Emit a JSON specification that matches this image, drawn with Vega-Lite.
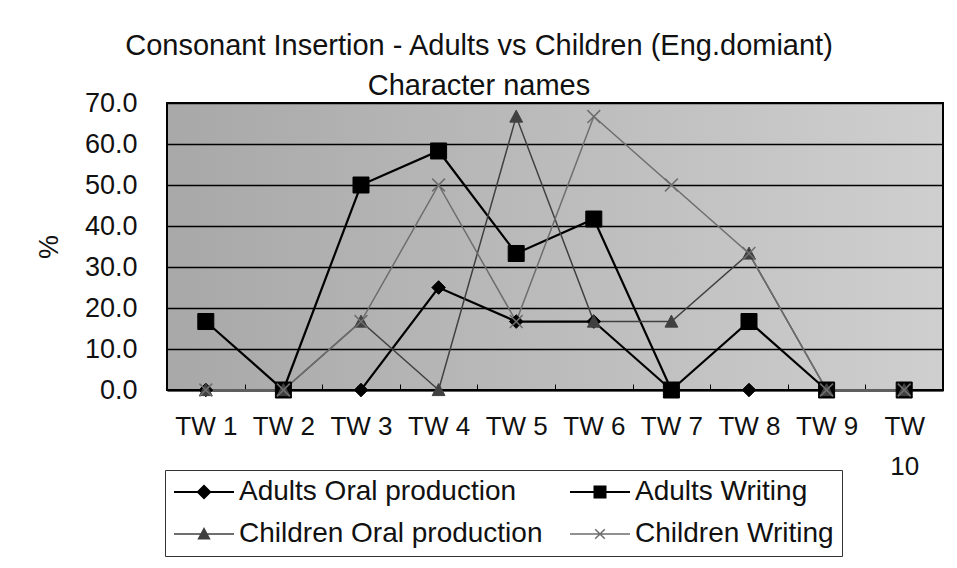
{
  "$schema": "https://vega.github.io/schema/vega-lite/v6.json",
  "autosize": "none",
  "width": 776,
  "height": 287,
  "padding": {"left": 167, "top": 103, "right": 14, "bottom": 178},
  "background": "#ffffff",
  "title": {
    "text": ["Consonant Insertion - Adults vs Children (Eng.domiant)", "Character names"],
    "font": "Liberation Sans",
    "fontSize": 29,
    "fontWeight": "normal",
    "color": "#111111",
    "lineHeight": 40,
    "anchor": "middle",
    "frame": "group",
    "dx": -76,
    "offset": -12
  },
  "config": {
    "font": "Liberation Sans",
    "view": {
      "stroke": "#000000",
      "strokeWidth": 2,
      "fill": {
        "gradient": "linear",
        "x1": 0, "y1": 0, "x2": 1, "y2": 0,
        "stops": [
          {"offset": 0, "color": "#a8a8a8"},
          {"offset": 1, "color": "#cfcfcf"}
        ]
      }
    }
  },
  "data": {
    "values": [
      {"tw": "TW 1", "series": "Adults Oral production", "value": 0},
      {"tw": "TW 2", "series": "Adults Oral production", "value": 0},
      {"tw": "TW 3", "series": "Adults Oral production", "value": 0},
      {"tw": "TW 4", "series": "Adults Oral production", "value": 25},
      {"tw": "TW 5", "series": "Adults Oral production", "value": 16.7},
      {"tw": "TW 6", "series": "Adults Oral production", "value": 16.7},
      {"tw": "TW 7", "series": "Adults Oral production", "value": 0},
      {"tw": "TW 8", "series": "Adults Oral production", "value": 0},
      {"tw": "TW 9", "series": "Adults Oral production", "value": 0},
      {"tw": "TW 10", "series": "Adults Oral production", "value": 0},
      {"tw": "TW 1", "series": "Adults Writing", "value": 16.7},
      {"tw": "TW 2", "series": "Adults Writing", "value": 0},
      {"tw": "TW 3", "series": "Adults Writing", "value": 50},
      {"tw": "TW 4", "series": "Adults Writing", "value": 58.3},
      {"tw": "TW 5", "series": "Adults Writing", "value": 33.3},
      {"tw": "TW 6", "series": "Adults Writing", "value": 41.7},
      {"tw": "TW 7", "series": "Adults Writing", "value": 0},
      {"tw": "TW 8", "series": "Adults Writing", "value": 16.7},
      {"tw": "TW 9", "series": "Adults Writing", "value": 0},
      {"tw": "TW 10", "series": "Adults Writing", "value": 0},
      {"tw": "TW 1", "series": "Children Oral production", "value": 0},
      {"tw": "TW 2", "series": "Children Oral production", "value": 0},
      {"tw": "TW 3", "series": "Children Oral production", "value": 16.7},
      {"tw": "TW 4", "series": "Children Oral production", "value": 0},
      {"tw": "TW 5", "series": "Children Oral production", "value": 66.7},
      {"tw": "TW 6", "series": "Children Oral production", "value": 16.7},
      {"tw": "TW 7", "series": "Children Oral production", "value": 16.7},
      {"tw": "TW 8", "series": "Children Oral production", "value": 33.3},
      {"tw": "TW 9", "series": "Children Oral production", "value": 0},
      {"tw": "TW 10", "series": "Children Oral production", "value": 0},
      {"tw": "TW 1", "series": "Children Writing", "value": 0},
      {"tw": "TW 2", "series": "Children Writing", "value": 0},
      {"tw": "TW 3", "series": "Children Writing", "value": 16.7},
      {"tw": "TW 4", "series": "Children Writing", "value": 50},
      {"tw": "TW 5", "series": "Children Writing", "value": 16.7},
      {"tw": "TW 6", "series": "Children Writing", "value": 66.7},
      {"tw": "TW 7", "series": "Children Writing", "value": 50},
      {"tw": "TW 8", "series": "Children Writing", "value": 33.3},
      {"tw": "TW 9", "series": "Children Writing", "value": 0},
      {"tw": "TW 10", "series": "Children Writing", "value": 0}
    ]
  },
  "encoding": {
    "x": {
      "field": "tw",
      "type": "ordinal",
      "sort": null,
      "scale": {"type": "band", "paddingInner": 0, "paddingOuter": 0},
      "axis": {
        "title": null,
        "labelAngle": 0,
        "labelFontSize": 26,
        "labelColor": "#111111",
        "labelPadding": 29,
        "labelLineHeight": 40,
        "labelExpr": "datum.value === 'TW 10' ? ['TW', '10'] : datum.value",
        "tickBand": "extent",
        "tickSize": -6,
        "tickColor": "#000000",
        "tickWidth": 1,
        "domainColor": "#000000",
        "domainWidth": 2,
        "grid": false
      }
    },
    "y": {
      "field": "value",
      "type": "quantitative",
      "scale": {"domain": [0, 70], "nice": false},
      "axis": {
        "title": "%",
        "titleFontSize": 27,
        "titleFontWeight": "normal",
        "titleColor": "#111111",
        "titlePadding": 21,
        "values": [0, 10, 20, 30, 40, 50, 60, 70],
        "format": ".1f",
        "labelFontSize": 27,
        "labelColor": "#111111",
        "labelPadding": 30,
        "ticks": false,
        "domain": false,
        "grid": true,
        "gridColor": "#000000",
        "gridWidth": 1.5,
        "gridOpacity": 1
      }
    }
  },
  "layer": [
    {
      "mark": {"type": "line"},
      "encoding": {
        "color": {
          "field": "series",
          "type": "nominal",
          "sort": null,
          "scale": {
            "domain": ["Adults Oral production", "Adults Writing", "Children Oral production", "Children Writing"],
            "range": ["#000000", "#000000", "#404040", "#6e6e6e"]
          },
          "legend": {
            "title": null,
            "orient": "none",
            "legendX": -2,
            "legendY": 367,
            "columns": 2,
            "direction": "horizontal",
            "labelFontSize": 28,
            "labelColor": "#111111",
            "labelLimit": 500,
            "symbolType": "M-5,0L5,0",
            "symbolSize": 144,
            "symbolOffset": 17,
            "labelOffset": 21,
            "columnPadding": 22,
            "rowPadding": 14,
            "padding": 8,
            "strokeColor": "#333333",
            "symbolStrokeWidth": 1.6,
            "symbolOpacity": 1,
            "encode": {
              "symbols": {
                "update": {
                  "shape": {"signal": "datum.value === 'Adults Oral production' ? 'M-5,0L5,0M0,-1L1,0L0,1L-1,0Z' : datum.value === 'Adults Writing' ? 'M-5,0L5,0M-0.9,-0.9L0.9,-0.9L0.9,0.9L-0.9,0.9Z' : datum.value === 'Children Oral production' ? 'M-5,0L5,0M0,-0.9L0.9,0.8L-0.9,0.8Z' : 'M-5,0L5,0M-0.8,-0.8L0.8,0.8M-0.8,0.8L0.8,-0.8'"},
                  "fill": {"signal": "datum.value === 'Children Oral production' ? '#404040' : datum.value === 'Children Writing' ? 'transparent' : '#000000'"},
                  "stroke": {"signal": "datum.value === 'Children Oral production' ? '#404040' : datum.value === 'Children Writing' ? '#6e6e6e' : '#000000'"},
                  "strokeWidth": {"value": 1.6}
                }
              }
            }
          }
        },
        "strokeWidth": {
          "field": "series",
          "type": "nominal",
          "sort": null,
          "scale": {
            "type": "ordinal",
            "domain": ["Adults Oral production", "Adults Writing", "Children Oral production", "Children Writing"],
            "range": [2.2, 2.2, 1.5, 1.5]
          },
          "legend": null
        }
      }
    },
    {
      "transform": [{"filter": "datum.series === 'Adults Oral production'"}],
      "mark": {"type": "point", "shape": "M0,-0.85L0.85,0L0,0.85L-0.85,0Z", "filled": true, "fill": "#000000", "stroke": "#000000", "strokeWidth": 1, "opacity": 1, "size": 256},
      "encoding": {}
    },
    {
      "transform": [{"filter": "datum.series === 'Adults Writing'"}],
      "mark": {"type": "point", "shape": "M-1,-1L1,-1L1,1L-1,1Z", "filled": true, "fill": "#000000", "stroke": "#000000", "strokeWidth": 1, "opacity": 1, "size": 256},
      "encoding": {}
    },
    {
      "transform": [{"filter": "datum.series === 'Children Oral production'"}],
      "mark": {"type": "point", "shape": "M0,-0.8L0.8,0.7L-0.8,0.7Z", "filled": true, "fill": "#404040", "stroke": "#404040", "strokeWidth": 1, "opacity": 1, "size": 256},
      "encoding": {}
    },
    {
      "transform": [{"filter": "datum.series === 'Children Writing'"}],
      "mark": {"type": "point", "shape": "M-0.8,-0.8L0.8,0.8M-0.8,0.8L0.8,-0.8", "filled": false, "fill": "transparent", "stroke": "#6e6e6e", "strokeWidth": 1.5, "opacity": 1, "size": 256},
      "encoding": {}
    }
  ]
}
